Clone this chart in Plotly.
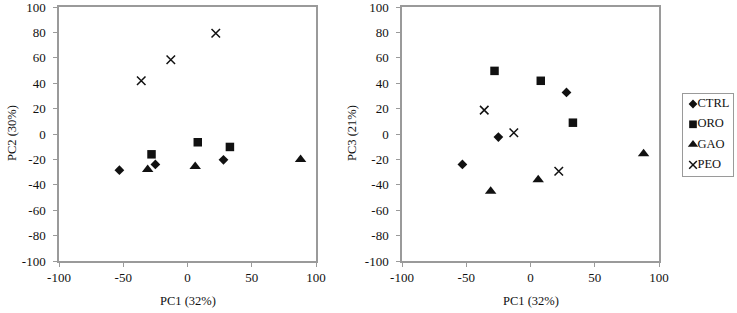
import plotly.graph_objects as go

groups = ["CTRL", "ORO", "GAO", "PEO"]
pc1 = {
    "CTRL": [-53, -25, 28],
    "ORO": [-28, 8, 33],
    "GAO": [-31, 6, 88],
    "PEO": [-36, -13, 22],
}
pc2 = {
    "CTRL": [-28.5, -24, -20.3],
    "ORO": [-16, -6.5, -10.2],
    "GAO": [-28, -25.5, -20],
    "PEO": [42, 58.4, 79.3],
}
pc3 = {
    "CTRL": [-24, -2.4, 32.7],
    "ORO": [49.7, 41.9, 8.9],
    "GAO": [-45, -36, -15.5],
    "PEO": [18.8, 1, -29.3],
}
x_ticks = [-100, -50, 0, 50, 100]
y_ticks = [-100, -80, -60, -40, -20, 0, 20, 40, 60, 80, 100]
x_labels = [str(v) for v in x_ticks]
y_labels = [str(v) for v in y_ticks]

W, H = 737, 313
FONT = "Liberation Serif"
BLACK = "#111111"
GREY = "#9a9a9a"

sym = {"CTRL": "diamond", "ORO": "square", "GAO": "triangle-up", "PEO": "x-thin-open"}
size = {"CTRL": 7.5, "ORO": 8.5, "GAO": 10, "PEO": 8.5}


def marker(g, scale=1.0):
    if g == "PEO":
        return dict(symbol=sym[g], size=size[g] * scale, color=BLACK, line=dict(color=BLACK, width=1.5))
    return dict(symbol=sym[g], size=size[g] * scale, color=BLACK, line=dict(width=0))


fig = go.Figure()
for g in groups:
    fig.add_trace(go.Scatter(x=pc1[g], y=pc2[g], mode="markers", marker=marker(g),
                             xaxis="x", yaxis="y", showlegend=False, name=g, hoverinfo="skip"))
    fig.add_trace(go.Scatter(x=pc1[g], y=pc3[g], mode="markers", marker=marker(g),
                             xaxis="x2", yaxis="y2", showlegend=False, name=g, hoverinfo="skip"))

# hand-built legend on a small axis
leg_y = [-(10 + 20.3 * i) for i in range(len(groups))]
for i, g in enumerate(groups):
    fig.add_trace(go.Scatter(x=[10], y=[leg_y[i]], mode="markers",
                             marker=marker(g, 0.9), xaxis="x3", yaxis="y3",
                             showlegend=False, name=g, cliponaxis=False, hoverinfo="skip"))
fig.add_trace(go.Scatter(x=[14.5] * len(groups), y=leg_y, mode="text", text=groups,
                         textposition="middle right",
                         textfont=dict(family=FONT, size=12.5, color=BLACK),
                         marker=dict(size=1), xaxis="x3", yaxis="y3",
                         showlegend=False, cliponaxis=False, hoverinfo="skip"))


def px_x(a, b):
    return [a / W, b / W]


def px_y(top, bottom):
    return [(H - bottom) / H, (H - top) / H]


common_axis = dict(showgrid=False, zeroline=False, showline=True, linecolor=GREY, linewidth=1.5,
                   mirror=True, ticks="outside", ticklen=4, tickcolor=GREY, tickwidth=1,
                   automargin=False, ticklabeloverflow="allow",
                   tickfont=dict(family=FONT, size=13, color=BLACK))

fig.update_layout(
    width=W, height=H,
    margin=dict(l=0, r=0, t=0, b=0, autoexpand=False),
    paper_bgcolor="white", plot_bgcolor="white",
    xaxis=dict(common_axis, domain=px_x(59, 316), range=[-100, 100], tickvals=x_ticks, ticktext=x_labels, anchor="y"),
    yaxis=dict(common_axis, domain=px_y(7, 261), range=[-100, 100], tickvals=y_ticks, ticktext=y_labels, anchor="x",
               ticklabelstandoff=5),
    xaxis2=dict(common_axis, domain=px_x(402, 659), range=[-100, 100], tickvals=x_ticks, ticktext=x_labels, anchor="y2"),
    yaxis2=dict(common_axis, domain=px_y(7, 261), range=[-100, 100], tickvals=y_ticks, ticktext=y_labels, anchor="x2",
                ticklabelstandoff=5),
    xaxis3=dict(domain=px_x(683, 733), range=[0, 50], showgrid=False, zeroline=False, showticklabels=False,
                showline=True, mirror=True, linecolor=GREY, linewidth=1, anchor="y3", fixedrange=True,
                automargin=False),
    yaxis3=dict(domain=px_y(94, 176), range=[-82, 0], showgrid=False, zeroline=False, showticklabels=False,
                showline=True, mirror=True, linecolor=GREY, linewidth=1, anchor="x3", fixedrange=True,
                automargin=False),
    font=dict(family=FONT, size=12, color=BLACK),
    hovermode=False,
)

title_font = dict(family=FONT, size=12.5, color=BLACK)
fig.add_annotation(text="PC1 (32%)", x=187.5 / W, y=(H - 301) / H, xref="paper", yref="paper",
                   showarrow=False, font=title_font, xanchor="center", yanchor="middle")
fig.add_annotation(text="PC1 (32%)", x=531 / W, y=(H - 301) / H, xref="paper", yref="paper",
                   showarrow=False, font=title_font, xanchor="center", yanchor="middle")
fig.add_annotation(text="PC2 (30%)", x=12 / W, y=(H - 133) / H, xref="paper", yref="paper",
                   showarrow=False, font=title_font, textangle=-90, xanchor="center", yanchor="middle")
fig.add_annotation(text="PC3 (21%)", x=352 / W, y=(H - 133) / H, xref="paper", yref="paper",
                   showarrow=False, font=title_font, textangle=-90, xanchor="center", yanchor="middle")

fig.write_html("out.html", config={"displayModeBar": False},
               post_script="document.body.style.margin='0';document.body.style.overflow='hidden';")
